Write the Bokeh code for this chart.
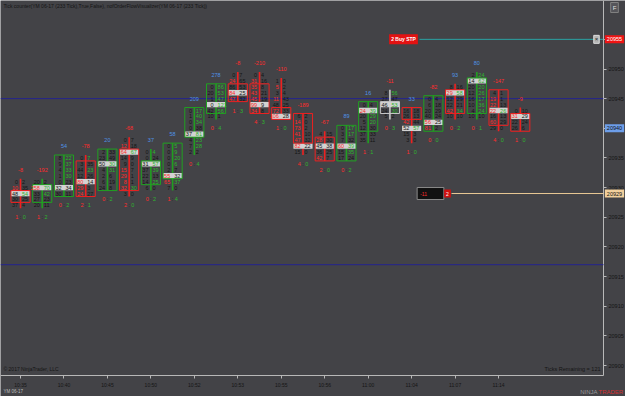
from bokeh.plotting import figure
from bokeh.models import Range1d, LinearAxis, FixedTicker, Label, ColumnDataSource
from bokeh.embed import file_html
from bokeh.resources import INLINE
from bokeh.core.properties import value

# ---------------- data ----------------
time_labels = ["10:35", "10:40", "10:45", "10:50", "10:52", "10:53",
               "10:55", "10:56", "11:00", "11:04", "11:07", "11:14"]
price_ticks = list(range(20900, 20956, 5))

bar_top = [20931, 20931, 20935, 20935, 20936, 20938, 20936, 20937, 20943, 20947, 20949, 20949,
           20948, 20942, 20939, 20940, 20944, 20946, 20943, 20945, 20947, 20949, 20946, 20943]
bids = [
    [0, 10, 48, 30, 37],
    [20, 258, 33, 27, 20],
    [8, 9, 4, 1, 0, 32, 30],
    [0, 3, 44, 12, 80, 29, 24],
    [2, 23, 50, 4, 2, 6, 24],
    [0, 12, 64, 14, 9, 15, 29, 8, 32, 3],
    [0, 0, 31, 37, 22, 14, 6],
    [0, 0, 0, 0, 2, 55, 65, 7],
    [0, 1, 0, 0, 37, 4, 7, 2],
    [0, 20, 1, 0, 42, 10],
    [0, 24, 86, 84, 47],
    [0, 31, 35, 43, 45, 99, 34],
    [1, 5, 3, 11, 48, 72, 106],
    [6, 14, 73, 41, 47, 82, 15],
    [4, 28, 45, 36, 42],
    [0, 3, 7, 60, 15, 17],
    [0, 24, 20, 5, 12, 37, 35],
    [8, 27, 46, 24, 5],
    [16, 26, 42, 52, 15, 3],
    [0, 6, 20, 40, 56, 81],
    [8, 29, 12, 22, 42, 10],
    [2, 14, 20, 12, 16, 10, 4, 10],
    [4, 19, 22, 22, 16, 60, 29],
    [0, 31, 22, 26],
]
asks = [
    [2, 35, 54, 25, 4],
    [2, 70, 42, 23, 11],
    [22, 37, 33, 30, 23, 34, 11],
    [7, 35, 23, 26, 14, 3, 27],
    [33, 49, 30, 31, 6, 19, 8],
    [7, 18, 67, 9, 0, 7, 1, 1, 30, 0],
    [4, 24, 57, 39, 13, 25, 0],
    [5, 9, 20, 6, 7, 32, 37, 0],
    [17, 40, 34, 38, 81, 23, 28, 2],
    [86, 53, 47, 121, 56, 1],
    [7, 65, 53, 25, 32],
    [4, 16, 8, 21, 19, 9, 8],
    [0, 2, 4, 43, 25, 33, 28],
    [2, 0, 2, 10, 32, 22, 0],
    [15, 30, 38, 25, 7],
    [17, 17, 32, 39, 35, 24],
    [4, 39, 29, 20, 30, 33, 11],
    [56, 47, 53, 30, 2],
    [18, 13, 44, 57, 3, 0],
    [4, 18, 29, 24, 25, 2],
    [16, 58, 29, 21, 34, 10],
    [24, 62, 20, 26, 17, 36, 24, 10],
    [1, 1, 13, 26, 13, 29, 0],
    [10, 29, 24, 6],
]
poc_price = [20929, 20930, 20930, 20931, 20934, 20936, 20934, 20932, 20939, 20944, 20946, 20944,
             20942, 20937, 20937, 20937, 20943, 20944, 20940, 20941, 20946, 20948, 20943, 20942]
box_hi = [20929, 20930, 20935, 20934, 20936, 20936, 20934, 20937, 20943, 20947, 20947, 20947,
          20943, 20942, 20938, 20940, 20944, 20944, 20943, 20945, 20946, 20948, 20946, 20942]
box_lo = [20928, 20928, 20929, 20929, 20930, 20930, 20931, 20932, 20939, 20943, 20945, 20943,
          20942, 20938, 20935, 20935, 20940, 20943, 20942, 20940, 20943, 20943, 20941, 20940]
bar_dir = ["down", "up", "up", "down", "up", "down", "up", "up", "up", "up", "down", "down",
           "down", "down", "down", "up", "up", "flat", "down", "up", "down", "up", "down", "down"]
delta = [-8, -192, 54, -78, 20, -68, 37, 58, 209, 278, -8, -210,
         -110, -189, -67, 89, 16, -11, 33, -82, 93, 80, -147, -9]
ratio_bid = [1, 1, 0, 2, 0, 2, 0, 1, 0, 0, 1, 4, 1, 4, 2, 0, 1, 0, 1, 0, 0, 0, 4, 1]
ratio_ask = [0, 2, 2, 1, 2, 0, 2, 4, 4, 4, 3, 3, 0, 0, 0, 2, 1, 3, 0, 0, 2, 1, 0, 0]

session_levels = [20945, 20917]
order_price = 20955
order_text = "2 Buy STP"
position_price = 20929
position_pnl = "-11"
position_qty = "2"
last_price = 20940
ticks_remaining = 121
title_text = "Tick counter(YM 06-17 (233 Tick),True,False), nofOrderFlowVisualizer(YM 06-17 (233 Tick))"

# ---------------- styling ----------------
BG = "#434347"
INK = "#151515"
RED = "#ff2b2b"
GREEN = "#2db52d"
BLUE = "#4f93e6"
BOX_RED = "#ee2020"
BOX_GREEN = "#20a020"
GRAY = "#c8c8c8"
EDGE = "#b8b8b8"
FONT_NAME = "Liberation Sans"
FONT = value(FONT_NAME)
NUM_SIZE = "5.5px"

# pixel <-> data helpers (layout only)
W, H = 625, 396
X0_PX, BAR_PX = 20.0, 21.73
Y_REF, ROW_PX, P_REF = 365.0, 5.93, 20900.0
PANEL_R, PANEL_B = 603, 375   # right / bottom edge of the price panel


def px_x(px):
    return (px - X0_PX) / BAR_PX


def py_p(py):
    return P_REF + (Y_REF - py) / ROW_PX


def py_of(price):
    return Y_REF - (price - P_REF) * ROW_PX


p = figure(width=W, height=H, output_backend="svg", toolbar_location=None,
           x_range=Range1d(px_x(0), px_x(W)), y_range=Range1d(py_p(H), py_p(0)),
           x_axis_location=None, y_axis_location=None, min_border=0)
p.background_fill_color = BG
p.border_fill_color = BG
p.outline_line_color = None
for g in p.grid:
    g.visible = False

# axes (drawn at the panel edges, taking no extra room)
yaxis = LinearAxis(ticker=FixedTicker(ticks=price_ticks), fixed_location=px_x(PANEL_R),
                   bounds=(py_p(PANEL_B), py_p(0)))
yaxis.axis_line_color = None
yaxis.major_tick_line_color = EDGE
yaxis.major_tick_out = 3
yaxis.major_tick_in = 0
yaxis.minor_tick_line_color = None
yaxis.major_label_standoff = 2
yaxis.major_label_text_font_size = "5.5px"
yaxis.major_label_text_font = FONT_NAME
yaxis.major_label_text_color = INK
p.add_layout(yaxis, "right")

n = len(bar_top)
xaxis = LinearAxis(ticker=FixedTicker(ticks=list(range(0, n, 2))), fixed_location=py_p(PANEL_B),
                   bounds=(px_x(0), px_x(PANEL_R)))
xaxis.major_label_overrides = {i * 2: t for i, t in enumerate(time_labels)}
xaxis.axis_line_color = None
xaxis.major_tick_line_color = EDGE
xaxis.major_tick_out = 3
xaxis.major_tick_in = 0
xaxis.minor_tick_line_color = None
xaxis.major_label_standoff = 3
xaxis.major_label_text_font_size = "5px"
xaxis.major_label_text_font = FONT_NAME
xaxis.major_label_text_color = INK
p.add_layout(xaxis, "below")

# panel border lines
p.segment(x0=[px_x(PANEL_R), px_x(0)], x1=[px_x(PANEL_R), px_x(PANEL_R)],
          y0=[py_p(0), py_p(PANEL_B)], y1=[py_p(PANEL_B), py_p(PANEL_B)],
          line_color=EDGE, line_width=1)

# session level lines
p.segment(x0=[px_x(0)] * len(session_levels), x1=[px_x(PANEL_R)] * len(session_levels),
          y0=session_levels, y1=session_levels, line_color="#24248e", line_width=1)

# ---------------- footprint bars ----------------
HALF = 0.44
dir_col = {"up": BOX_GREEN, "down": BOX_RED, "flat": GRAY}
xs = list(range(n))
bottoms = [bar_top[i] - len(bids[i]) + 1 for i in xs]
cols = [dir_col[d] for d in bar_dir]

p.segment(x0=xs, x1=xs, y0=[t + 0.5 for t in bar_top], y1=[b - 0.5 for b in bottoms],
          line_color=cols, line_width=1.6)
p.quad(left=[i - HALF for i in xs], right=[i + HALF for i in xs],
       top=[v + 0.45 for v in poc_price], bottom=[v - 0.45 for v in poc_price],
       fill_color="#d2d2d2", line_color=None)
p.quad(left=[i - HALF for i in xs], right=[i + HALF for i in xs],
       top=[v + 0.5 for v in box_hi], bottom=[v - 0.5 for v in box_lo],
       fill_color=None, line_color=cols, line_width=1)

xl, xr, yy, bt, at, bc, ac = [], [], [], [], [], [], []
for i in xs:
    b, a = bids[i], asks[i]
    m = len(b)
    for k in range(m):
        price = bar_top[i] - k
        xl.append(i - 0.11)
        xr.append(i + 0.07)
        yy.append(price)
        bt.append(str(b[k]))
        at.append(str(a[k]))
        bred = k > 0 and b[k] >= 4 and b[k] > 1.5 * a[k - 1]
        agrn = k < m - 1 and a[k] >= 4 and a[k] > 1.5 * b[k + 1]
        bc.append(RED if bred else INK)
        ac.append(GREEN if agrn else INK)

src = ColumnDataSource(dict(xl=xl, xr=xr, y=yy, bt=bt, at=at, bc=bc, ac=ac))
p.text(x="xl", y="y", text="bt", text_color="bc", text_align="right", text_baseline="middle",
       text_font_size=NUM_SIZE, text_font=FONT, source=src)
p.text(x="xr", y="y", text="at", text_color="ac", text_align="left", text_baseline="middle",
       text_font_size=NUM_SIZE, text_font=FONT, source=src)

# delta labels
p.text(x=xs, y=[t + 2 for t in bar_top], text=[str(d) for d in delta],
       text_color=[BLUE if d > 0 else RED for d in delta], text_align="center",
       text_baseline="middle", text_font_size=NUM_SIZE, text_font=FONT)

# ratio labels
ry = [b - 2 for b in bottoms]
p.text(x=[i - 0.1 for i in xs], y=ry, text=[str(v) for v in ratio_bid], text_color=RED,
       text_align="right", text_baseline="middle", text_font_size=NUM_SIZE, text_font=FONT)
p.text(x=xs, y=ry, text=[":"] * n, text_color=INK,
       text_align="center", text_baseline="middle", text_font_size=NUM_SIZE, text_font=FONT)
p.text(x=[i + 0.1 for i in xs], y=ry, text=[str(v) for v in ratio_ask], text_color=GREEN,
       text_align="left", text_baseline="middle", text_font_size=NUM_SIZE, text_font=FONT)

# ---------------- order / position lines ----------------
p.segment(x0=[px_x(419)], x1=[px_x(PANEL_R)], y0=[order_price], y1=[order_price],
          line_color="#2aa3a3", line_width=1)
p.segment(x0=[px_x(451)], x1=[px_x(PANEL_R)], y0=[position_price], y1=[position_price],
          line_color="#e9c995", line_width=1)


def lab(px, py, text, size="5px", color=INK, align="left", bg=None, border=None, bold=False,
        pad=0):
    kw = dict(x=px_x(px), y=py_p(py), text=text, text_font_size=size, text_color=color,
              text_align=align, text_baseline="middle", text_font=FONT_NAME)
    if bold:
        kw["text_font_style"] = "bold"
    if bg is not None:
        kw["background_fill_color"] = bg
    if border is not None:
        kw["border_line_color"] = border
    if pad:
        kw["padding"] = pad
    p.add_layout(Label(**kw))


lab(3, 5, title_text, size="5px", color=INK)
lab(3, 368, "\u00a9 2017 NinjaTrader, LLC", size="5px")
lab(600, 368, "Ticks Remaining = %d" % ticks_remaining, size="5.5px", align="right")
lab(3, 391, "YM 06-17", size="4.5px", color="#bdbdbd")
lab(597, 391, "NINJA", size="6px", color="#9a9a9a", align="right")
lab(598, 391, "TRADER", size="6px", color="#d23030", align="left")
lab(614, 7, "F", size="6px", color="#e0e0e0", align="center", bg="#55555a", border="#808080",
    pad=2)

lab(403, py_of(order_price), order_text, size="5px", color="white", align="center",
    bg="#e31212", pad=2, bold=True)
lab(596, py_of(order_price), "\u00d7", size="6px", color="#202020", align="center",
    bg="#b4b4b4", border="#dddddd", pad=1)
lab(430, py_of(position_price), "     " + position_pnl + "     ", size="5px", color=RED,
    align="center", bg="#111111", border="#8a8a8a", pad=3)
lab(447, py_of(position_price), position_qty, size="5px", color="white", align="center",
    bg="#d01010", pad=2)

lab(614, py_of(order_price), str(order_price), size="5.5px", color="white", align="center",
    bg="#f01414", pad=2)
lab(614, py_of(last_price), str(last_price), size="5.5px", color="#101010", align="center",
    bg="#6d9eea", pad=2)
lab(614, py_of(position_price), str(position_price), size="5.5px", color="#101010",
    align="center", bg="#f1cf9c", pad=2)

open("out.html", "w").write(file_html(p, INLINE))
